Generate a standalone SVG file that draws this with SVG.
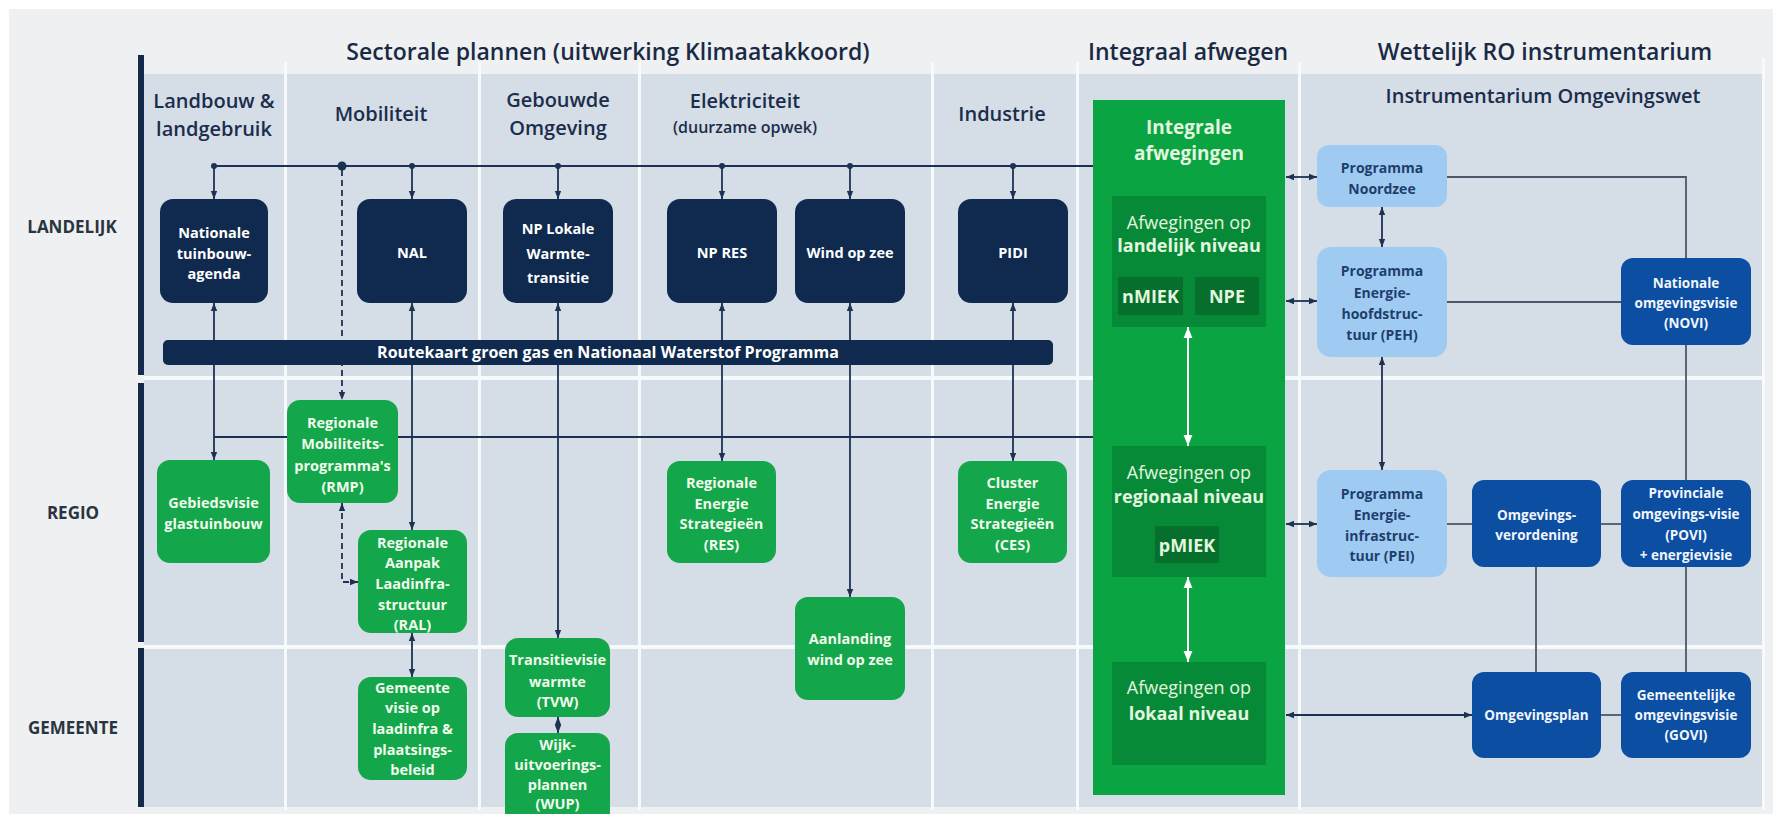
<svg xmlns="http://www.w3.org/2000/svg" width="1773" height="814" viewBox="0 0 1773 814">
<style>
text{font-family:"Open Sans","Liberation Sans",sans-serif;text-anchor:middle;dominant-baseline:central}
.ttl{font-size:23px;font-weight:600;fill:#1a2a45}
.hdr{font-size:20px;font-weight:600;fill:#1b2d4b}
.sub{font-size:16px;font-weight:600;fill:#1b2d4b}
.row{font-size:17px;font-weight:700;fill:#2a3441}
.nv{fill:#0f2a4e}
.gr{fill:#14a64a}
.lb{fill:#9fcbf2}
.db{fill:#0b4ea2}
.wt{font-size:14.5px;font-weight:700;fill:#ffffff}
.gt{font-size:14.5px;font-weight:700;fill:#f0fbec}
.lt{font-size:14px;font-weight:700;fill:#1e3e6c}
.dt{font-size:13.5px;font-weight:700;fill:#f2f6fc}
.it{font-size:18px;fill:#e3f6df}
.itb{font-size:18px;font-weight:700;fill:#e3f6df}
.ln{fill:none;stroke:#1d3152;stroke-width:1.8}
.gl{fill:none;stroke:#4a586b;stroke-width:1.8}
.wl{fill:none;stroke:#ffffff;stroke-width:2}
.sep{fill:#f7f9fb}
</style>
<defs>
<marker id="ah" viewBox="0 0 10 10" refX="10" refY="5" markerWidth="8" markerHeight="8" markerUnits="userSpaceOnUse" orient="auto-start-reverse"><path d="M0,1 L10,5 L0,9 z" fill="#1d3152"/></marker>
<marker id="aw" viewBox="0 0 10 10" refX="10" refY="5" markerWidth="11" markerHeight="11" markerUnits="userSpaceOnUse" orient="auto-start-reverse"><path d="M0,1 L10,5 L0,9 z" fill="#ffffff"/></marker>
</defs>

<!-- background -->
<rect x="0" y="0" width="1773" height="814" fill="#eef0f1"/>
<rect x="0" y="0" width="1773" height="9" fill="#ffffff"/>
<rect x="0" y="0" width="9" height="814" fill="#ffffff"/>

<!-- panel -->
<rect x="144" y="74" width="1618" height="733" fill="#d5dde6"/>
<g id="separators">
<rect class="sep" x="284" y="62" width="3" height="748"/>
<rect class="sep" x="478" y="62" width="3" height="748"/>
<rect class="sep" x="638" y="62" width="3" height="748"/>
<rect class="sep" x="931" y="62" width="3" height="748"/>
<rect class="sep" x="1076" y="62" width="3" height="748"/>
<rect class="sep" x="1298" y="62" width="3" height="748"/>
<rect class="sep" x="1762" y="58" width="3" height="752"/>
<rect class="sep" x="144" y="376" width="1618" height="4"/>
<rect class="sep" x="144" y="645" width="1618" height="4"/>
</g>
<g id="rowbar" fill="#132a4a">
<rect x="138" y="55" width="6" height="320"/>
<rect x="138" y="383" width="6" height="259"/>
<rect x="138" y="648" width="6" height="159"/>
</g>

<!-- titles -->
<g id="titles">
<text class="ttl" x="608" y="51">Sectorale plannen (uitwerking Klimaatakkoord)</text>
<text class="ttl" x="1188" y="51">Integraal afwegen</text>
<text class="ttl" x="1545" y="51">Wettelijk RO instrumentarium</text>
<text class="hdr" x="214" y="100">Landbouw &amp;</text>
<text class="hdr" x="214" y="128">landgebruik</text>
<text class="hdr" x="381" y="113">Mobiliteit</text>
<text class="hdr" x="558" y="99">Gebouwde</text>
<text class="hdr" x="558" y="127">Omgeving</text>
<text class="hdr" x="745" y="100">Elektriciteit</text>
<text class="sub" x="745" y="127">(duurzame opwek)</text>
<text class="hdr" x="1002" y="113">Industrie</text>
<text class="hdr" x="1543" y="95">Instrumentarium Omgevingswet</text>
<text class="row" x="72" y="226">LANDELIJK</text>
<text class="row" x="73" y="512">REGIO</text>
<text class="row" x="73" y="727">GEMEENTE</text>
</g>

<!-- integraal container -->
<g id="integraal">
<rect x="1093" y="100" width="192" height="695" fill="#0aa443"/>
<text class="itb" x="1189" y="127" style="font-size:19px">Integrale</text>
<text class="itb" x="1189" y="153" style="font-size:19px">afwegingen</text>
</g>

<!-- connectors -->
<g id="connectors">
<path class="ln" d="M214,166 H1093"/>
<path class="ln" marker-end="url(#ah)" d="M214,166 V199"/>
<path class="ln" marker-end="url(#ah)" d="M412,166 V199"/>
<path class="ln" marker-end="url(#ah)" d="M558,166 V199"/>
<path class="ln" marker-end="url(#ah)" d="M722,166 V199"/>
<path class="ln" marker-end="url(#ah)" d="M850,166 V199"/>
<path class="ln" marker-end="url(#ah)" d="M1013,166 V199"/>
<g fill="#1d3152">
<circle cx="214" cy="166" r="3"/>
<circle cx="412" cy="166" r="3"/>
<circle cx="558" cy="166" r="3"/>
<circle cx="722" cy="166" r="3"/>
<circle cx="850" cy="166" r="3"/>
<circle cx="1013" cy="166" r="3"/>
<circle cx="342" cy="166" r="4.5"/>
</g>
<path class="ln" stroke-dasharray="6 4" marker-end="url(#ah)" d="M342,170 V400"/>
<path class="ln" d="M214,437 H1093"/>
<path class="ln" marker-start="url(#ah)" marker-end="url(#ah)" d="M214,303 V460"/>
<path class="ln" marker-start="url(#ah)" marker-end="url(#ah)" d="M412,303 V530"/>
<path class="ln" marker-start="url(#ah)" marker-end="url(#ah)" d="M558,303 V638"/>
<path class="ln" marker-start="url(#ah)" marker-end="url(#ah)" d="M722,303 V461"/>
<path class="ln" marker-start="url(#ah)" marker-end="url(#ah)" d="M850,303 V597"/>
<path class="ln" marker-start="url(#ah)" marker-end="url(#ah)" d="M1013,303 V461"/>
<path class="ln" stroke-dasharray="6 4" marker-start="url(#ah)" marker-end="url(#ah)" d="M342,503 V582 H358"/>
<path class="ln" marker-start="url(#ah)" marker-end="url(#ah)" d="M412,633 V677"/>
<path class="ln" marker-start="url(#ah)" marker-end="url(#ah)" d="M558,717 V733"/>
<path class="wl" marker-start="url(#aw)" marker-end="url(#aw)" d="M1188,327 V446"/>
<path class="wl" marker-start="url(#aw)" marker-end="url(#aw)" d="M1188,577 V662"/>
<path class="ln" marker-start="url(#ah)" marker-end="url(#ah)" d="M1286,177 H1317"/>
<path class="ln" marker-start="url(#ah)" marker-end="url(#ah)" d="M1286,301 H1317"/>
<path class="ln" marker-start="url(#ah)" marker-end="url(#ah)" d="M1286,524 H1317"/>
<path class="ln" marker-start="url(#ah)" marker-end="url(#ah)" d="M1286,715 H1472"/>
<path class="ln" marker-start="url(#ah)" marker-end="url(#ah)" d="M1382,207 V247"/>
<path class="ln" marker-start="url(#ah)" marker-end="url(#ah)" d="M1382,357 V470"/>
<path class="gl" d="M1447,177 H1686 V258"/>
<path class="gl" d="M1447,302 H1621"/>
<path class="gl" d="M1686,345 V480"/>
<path class="gl" d="M1447,524 H1472"/>
<path class="gl" d="M1601,524 H1621"/>
<path class="gl" d="M1536,567 V672"/>
<path class="gl" d="M1686,567 V672"/>
<path class="gl" d="M1601,715 H1621"/>
</g>

<!-- landelijk nodes -->
<g id="n-tuinbouwagenda"><rect class="nv" x="160" y="199" width="108" height="104" rx="13"/>
<text class="wt" x="214" y="232">Nationale</text><text class="wt" x="214" y="253">tuinbouw-</text><text class="wt" x="214" y="273">agenda</text></g>
<g id="n-nal"><rect class="nv" x="357" y="199" width="110" height="104" rx="13"/>
<text class="wt" x="412" y="252">NAL</text></g>
<g id="n-nplw"><rect class="nv" x="503" y="199" width="110" height="104" rx="13"/>
<text class="wt" x="558" y="228">NP Lokale</text><text class="wt" x="558" y="253">Warmte-</text><text class="wt" x="558" y="277">transitie</text></g>
<g id="n-npres"><rect class="nv" x="667" y="199" width="110" height="104" rx="13"/>
<text class="wt" x="722" y="252">NP RES</text></g>
<g id="n-wind"><rect class="nv" x="795" y="199" width="110" height="104" rx="13"/>
<text class="wt" x="850" y="252">Wind op zee</text></g>
<g id="n-pidi"><rect class="nv" x="958" y="199" width="110" height="104" rx="13"/>
<text class="wt" x="1013" y="252">PIDI</text></g>

<g id="n-routekaart"><rect class="nv" x="163" y="340" width="890" height="25" rx="5"/>
<text class="wt" x="608" y="352" style="font-size:16px">Routekaart groen gas en Nationaal Waterstof Programma</text></g>

<!-- regio / gemeente green nodes -->
<g id="n-gebiedsvisie"><rect class="gr" x="157" y="460" width="113" height="103" rx="13"/>
<text class="gt" x="213.5" y="502">Gebiedsvisie</text><text class="gt" x="213.5" y="523">glastuinbouw</text></g>
<g id="n-rmp"><rect class="gr" x="287" y="400" width="111" height="103" rx="13"/>
<text class="gt" x="342.5" y="422">Regionale</text><text class="gt" x="342.5" y="443">Mobiliteits-</text><text class="gt" x="342.5" y="465">programma's</text><text class="gt" x="342.5" y="486">(RMP)</text></g>
<g id="n-ral"><rect class="gr" x="358" y="530" width="109" height="103" rx="13"/>
<text class="gt" x="412.5" y="542">Regionale</text><text class="gt" x="412.5" y="562">Aanpak</text><text class="gt" x="412.5" y="583">Laadinfra-</text><text class="gt" x="412.5" y="604">structuur</text><text class="gt" x="412.5" y="624">(RAL)</text></g>
<g id="n-gemeentevisie"><rect class="gr" x="358" y="677" width="109" height="103" rx="13"/>
<text class="gt" x="412.5" y="687">Gemeente</text><text class="gt" x="412.5" y="707">visie op</text><text class="gt" x="412.5" y="728">laadinfra &amp;</text><text class="gt" x="412.5" y="749">plaatsings-</text><text class="gt" x="412.5" y="769">beleid</text></g>
<g id="n-tvw"><rect class="gr" x="505" y="638" width="105" height="79" rx="13"/>
<text class="gt" x="557.5" y="659">Transitievisie</text><text class="gt" x="557.5" y="681">warmte</text><text class="gt" x="557.5" y="701">(TVW)</text></g>
<g id="n-wup"><rect class="gr" x="505" y="733" width="105" height="100" rx="13"/>
<text class="gt" x="557.5" y="744">Wijk-</text><text class="gt" x="557.5" y="764">uitvoerings-</text><text class="gt" x="557.5" y="784">plannen</text><text class="gt" x="557.5" y="803">(WUP)</text></g>
<g id="n-res"><rect class="gr" x="667" y="461" width="109" height="102" rx="13"/>
<text class="gt" x="721.5" y="482">Regionale</text><text class="gt" x="721.5" y="503">Energie</text><text class="gt" x="721.5" y="523">Strategieën</text><text class="gt" x="721.5" y="544">(RES)</text></g>
<g id="n-aanlanding"><rect class="gr" x="795" y="597" width="110" height="103" rx="13"/>
<text class="gt" x="850" y="638">Aanlanding</text><text class="gt" x="850" y="659">wind op zee</text></g>
<g id="n-ces"><rect class="gr" x="958" y="461" width="109" height="102" rx="13"/>
<text class="gt" x="1012.5" y="482">Cluster</text><text class="gt" x="1012.5" y="503">Energie</text><text class="gt" x="1012.5" y="523">Strategieën</text><text class="gt" x="1012.5" y="544">(CES)</text></g>

<!-- integraal sub boxes -->
<g id="n-afw-landelijk"><rect x="1112" y="196" width="154" height="131" fill="#078a38"/>
<text class="it" x="1189" y="222">Afwegingen op</text><text class="itb" x="1189" y="245">landelijk niveau</text>
<rect x="1118" y="277" width="65" height="38" fill="#066f2c"/><text class="itb" x="1150.5" y="296">nMIEK</text>
<rect x="1195" y="277" width="64" height="38" fill="#066f2c"/><text class="itb" x="1227" y="296">NPE</text></g>
<g id="n-afw-regionaal"><rect x="1112" y="446" width="154" height="131" fill="#078a38"/>
<text class="it" x="1189" y="472">Afwegingen op</text><text class="itb" x="1189" y="496">regionaal niveau</text>
<rect x="1155" y="526" width="64" height="37" fill="#066f2c"/><text class="itb" x="1187" y="545">pMIEK</text></g>
<g id="n-afw-lokaal"><rect x="1112" y="662" width="154" height="103" fill="#078a38"/>
<text class="it" x="1189" y="687">Afwegingen op</text><text class="itb" x="1189" y="713">lokaal niveau</text></g>

<!-- RO instrumentarium -->
<g id="n-noordzee"><rect class="lb" x="1317" y="145" width="130" height="62" rx="12"/>
<text class="lt" x="1382" y="167">Programma</text><text class="lt" x="1382" y="188">Noordzee</text></g>
<g id="n-peh"><rect class="lb" x="1317" y="247" width="130" height="110" rx="14"/>
<text class="lt" x="1382" y="270">Programma</text><text class="lt" x="1382" y="292">Energie-</text><text class="lt" x="1382" y="313">hoofdstruc-</text><text class="lt" x="1382" y="334">tuur (PEH)</text></g>
<g id="n-pei"><rect class="lb" x="1317" y="470" width="130" height="107" rx="14"/>
<text class="lt" x="1382" y="493">Programma</text><text class="lt" x="1382" y="514">Energie-</text><text class="lt" x="1382" y="535">infrastruc-</text><text class="lt" x="1382" y="555">tuur (PEI)</text></g>
<g id="n-novi"><rect class="db" x="1621" y="258" width="130" height="87" rx="12"/>
<text class="dt" x="1686" y="283">Nationale</text><text class="dt" x="1686" y="303">omgevingsvisie</text><text class="dt" x="1686" y="323">(NOVI)</text></g>
<g id="n-verordening"><rect class="db" x="1472" y="480" width="129" height="87" rx="12"/>
<text class="dt" x="1536.5" y="515">Omgevings-</text><text class="dt" x="1536.5" y="535">verordening</text></g>
<g id="n-povi"><rect class="db" x="1621" y="480" width="130" height="87" rx="12"/>
<text class="dt" x="1686" y="493">Provinciale</text><text class="dt" x="1686" y="514">omgevings-visie</text><text class="dt" x="1686" y="535">(POVI)</text><text class="dt" x="1686" y="555">+ energievisie</text></g>
<g id="n-omgevingsplan"><rect class="db" x="1472" y="672" width="129" height="86" rx="12"/>
<text class="dt" x="1536.5" y="715">Omgevingsplan</text></g>
<g id="n-govi"><rect class="db" x="1621" y="672" width="130" height="86" rx="12"/>
<text class="dt" x="1686" y="695">Gemeentelijke</text><text class="dt" x="1686" y="715">omgevingsvisie</text><text class="dt" x="1686" y="735">(GOVI)</text></g>
</svg>
